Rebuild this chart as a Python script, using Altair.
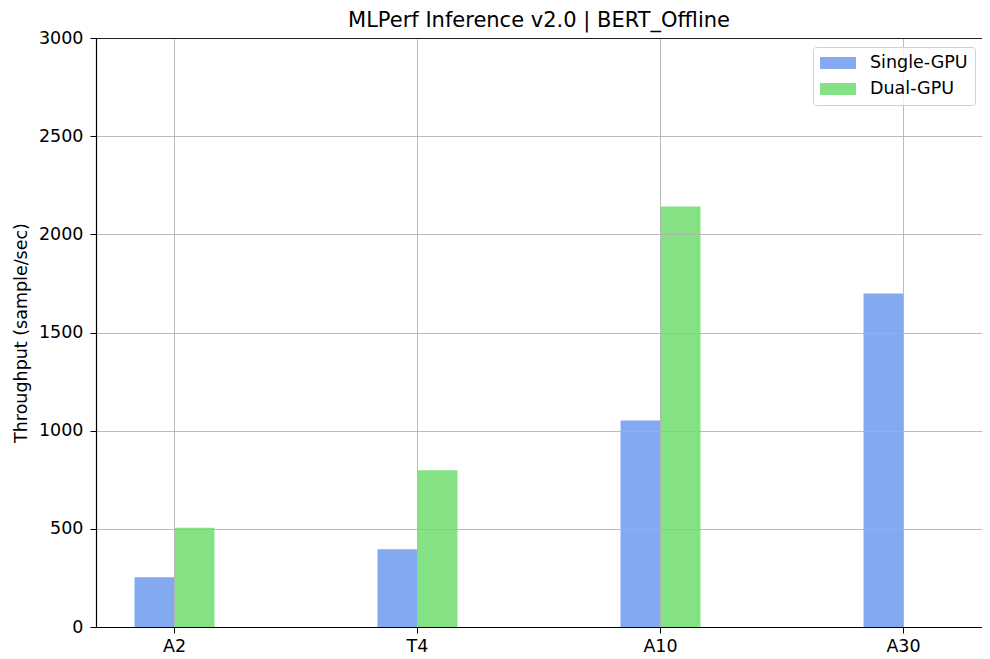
import altair as alt
import pandas as pd

categories = ["A2", "T4", "A10", "A30"]
series = ["Single-GPU", "Dual-GPU"]
single_gpu = [253, 396, 1052, 1699]
dual_gpu = [506, 798, 2142, None]
colors = ["#83aaf1", "#84e184"]

rows = []
for c, s, d in zip(categories, single_gpu, dual_gpu):
    if s is not None:
        rows.append({"GPU": c, "Config": series[0], "Throughput": s})
    if d is not None:
        rows.append({"GPU": c, "Config": series[1], "Throughput": d})
df = pd.DataFrame(rows)

FONT = "DejaVu Sans"
FS = 17.5
sym = "M-1,-0.667 H3 V0.667 H-1 Z"

chart = alt.Chart(df).mark_bar().encode(
    x=alt.X("GPU:N", sort=categories,
            scale=alt.Scale(paddingInner=0.671, paddingOuter=0.1585),
            axis=alt.Axis(title=None, labelAngle=0, bandPosition=0.5, grid=True, zindex=1,
                          domain=True, domainColor="black", domainWidth=1.2,
                          ticks=True, tickColor="black", tickSize=6,
                          labelPadding=4, labelColor="black", labelFontSize=FS,
                          labelFont=FONT, gridColor="#b0b0b0", gridWidth=1, gridOpacity=0.85)),
    xOffset=alt.XOffset("Config:N", sort=series, scale=alt.Scale(paddingInner=0, paddingOuter=0)),
    y=alt.Y("Throughput:Q", scale=alt.Scale(domain=[0, 3000], nice=False),
            axis=alt.Axis(title="Throughput (sample/sec)", values=[0, 500, 1000, 1500, 2000, 2500, 3000],
                          format="d", zindex=1,
                          domain=True, domainColor="black", domainWidth=1.2,
                          tickColor="black", tickSize=6, labelPadding=7,
                          labelColor="black", labelFontSize=FS, labelFont=FONT,
                          titleFont=FONT, titleFontSize=FS, titleFontWeight="normal",
                          titleColor="black", titlePadding=8,
                          gridColor=alt.ExprRef("datum.value == 3000 || datum.value == 0 ? 'black' : '#b0b0b0'"),
                          gridWidth=alt.ExprRef("datum.value == 3000 || datum.value == 0 ? 1.2 : 1"),
                          gridOpacity=0.85)),
    color=alt.Color("Config:N", sort=series,
                    scale=alt.Scale(domain=series, range=colors),
                    legend=alt.Legend(title=None, orient="none", legendX=717, legendY=9,
                                      symbolType=sym, symbolSize=324, symbolStrokeWidth=0,
                                      symbolOpacity=1, zindex=2,
                                      labelFont=FONT, labelFontSize=FS, labelColor="black",
                                      labelOffset=32, rowPadding=8,
                                      padding=7, fillColor="rgba(255,255,255,0.8)",
                                      strokeColor="#d0d0d0", cornerRadius=3)),
).properties(
    width=886, height=589,
    title=alt.TitleParams("MLPerf Inference v2.0 | BERT_Offline", font=FONT, fontSize=21,
                          fontWeight="normal", color="black", offset=-2),
    autosize=alt.AutoSizeParams(type="none"),
    padding={"left": 88, "top": 30, "right": 0, "bottom": 30},
).configure_view(stroke="black", strokeWidth=1.2).configure(background="white")

chart.save("out.html", embed_options={"renderer": "svg", "actions": False})
